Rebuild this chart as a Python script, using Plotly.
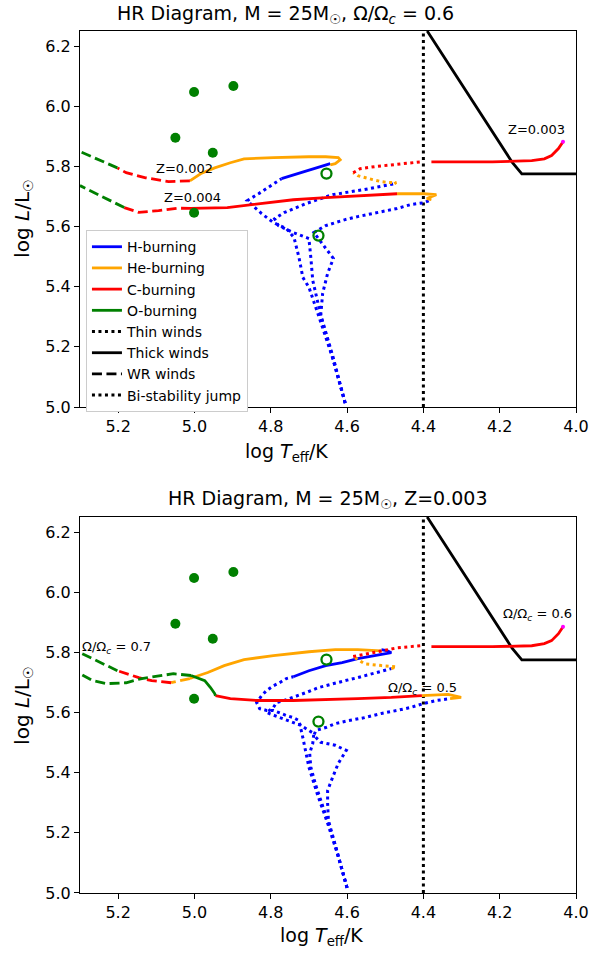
import plotly.graph_objects as go

BLUE = "#0000ff"; ORANGE = "#ffa500"; RED = "#ff0000"; GREEN = "#008000"
MAG = "#ff00ff"; BLACK = "#000000"
DOT = "3px,3.5px"; DASH = "10px,4.5px"

# ---------------- shared elements ----------------
thick_T = [4.39, 4.167, 4.142, 4.0]
thick_L = [6.25, 5.813, 5.775, 5.775]
bistab_T = [4.4, 4.4]
bistab_L = [5.0, 6.25]
obs_filled_T = [5.001, 4.898, 5.050, 4.952, 5.001]
obs_filled_L = [6.047, 6.067, 5.895, 5.845, 5.646]
obs_open_T = [4.654, 4.675]
obs_open_L = [5.776, 5.570]

x_ticks = [5.2, 5.0, 4.8, 4.6, 4.4, 4.2, 4.0]
y_ticks = [5.0, 5.2, 5.4, 5.6, 5.8, 6.0, 6.2]

# ---------------- top panel: Omega/Omega_c = 0.6 ----------------
# Z = 0.002
z2_H_thin_T = [4.605, 4.636, 4.675, 4.700, 4.716, 4.726, 4.739, 4.759, 4.793, 4.824, 4.862, 4.832, 4.772]
z2_H_thin_L = [5.013, 5.156, 5.305, 5.398, 5.431, 5.497, 5.563, 5.593, 5.613, 5.643, 5.686, 5.709, 5.759]
z2_H_thick_T = [4.772, 4.700, 4.644]
z2_H_thick_L = [5.759, 5.786, 5.809]
z2_He_thick_T = [4.644, 4.631, 4.618, 4.623, 4.656, 4.700, 4.793, 4.870, 4.906, 4.947, 4.983, 5.012]
z2_He_thick_L = [5.805, 5.809, 5.822, 5.829, 5.832, 5.832, 5.829, 5.825, 5.812, 5.795, 5.776, 5.752]
z2_C_wr_T = [5.012, 5.068, 5.128, 5.179, 5.202]
z2_C_wr_L = [5.752, 5.749, 5.762, 5.779, 5.795]
z2_O_wr_T = [5.202, 5.300]
z2_O_wr_L = [5.795, 5.849]

# Z = 0.003
z3_H_thin_T = [4.605, 4.638, 4.669, 4.690, 4.695, 4.700, 4.741, 4.780, 4.790, 4.765, 4.708, 4.638, 4.554, 4.476]
z3_H_thin_L = [5.013, 5.172, 5.305, 5.421, 5.497, 5.560, 5.580, 5.603, 5.626, 5.646, 5.676, 5.706, 5.723, 5.742]
z3_He_thin_T = [4.476, 4.471, 4.489, 4.510, 4.533, 4.554, 4.572, 4.584]
z3_He_thin_L = [5.742, 5.746, 5.746, 5.749, 5.756, 5.762, 5.769, 5.779]
z3_C_thin_T = [4.584, 4.566, 4.528, 4.484, 4.451, 4.407]
z3_C_thin_L = [5.779, 5.792, 5.799, 5.805, 5.809, 5.815]
z3_C_thick_T = [4.379, 4.219, 4.116, 4.083, 4.064, 4.046, 4.034]
z3_C_thick_L = [5.815, 5.815, 5.819, 5.825, 5.836, 5.859, 5.882]

# Z = 0.004
z4_H_thin_T = [4.605, 4.644, 4.669, 4.664, 4.651, 4.636, 4.662, 4.687, 4.656, 4.631, 4.605, 4.572,
               4.536, 4.502, 4.469, 4.433, 4.399, 4.379]
z4_H_thin_L = [5.013, 5.189, 5.305, 5.378, 5.444, 5.494, 5.537, 5.580, 5.603, 5.613, 5.623, 5.633,
               5.643, 5.650, 5.660, 5.673, 5.679, 5.689]
z4_He_thick_T = [4.379, 4.391, 4.366, 4.399, 4.430, 4.469]
z4_He_thick_L = [5.689, 5.693, 5.706, 5.709, 5.709, 5.709]
z4_C_thick_T = [4.469, 4.572, 4.656, 4.741, 4.829, 4.870, 4.914, 5.009]
z4_C_thick_L = [5.709, 5.703, 5.696, 5.689, 5.676, 5.670, 5.663, 5.660]
z4_C_wr_T = [5.009, 5.043, 5.094, 5.146, 5.184]
z4_C_wr_L = [5.660, 5.661, 5.653, 5.647, 5.663]
z4_O_wr_T = [5.184, 5.300]
z4_O_wr_L = [5.663, 5.736]

# ---------------- bottom panel: Z = 0.003 ----------------
# Omega/Omega_c = 0.7
w7_H_thin_T = [4.600, 4.626, 4.651, 4.677, 4.700, 4.708, 4.716, 4.726, 4.741, 4.759, 4.777, 4.793, 4.811,
               4.829, 4.837, 4.824, 4.811, 4.793, 4.777, 4.759, 4.741]
w7_H_thin_L = [5.017, 5.133, 5.232, 5.325, 5.418, 5.474, 5.517, 5.573, 5.583, 5.590, 5.600, 5.607, 5.607,
               5.613, 5.633, 5.656, 5.673, 5.689, 5.699, 5.713, 5.719]
w7_H_thick_T = [4.741, 4.700, 4.656, 4.613, 4.572, 4.528, 4.494, 4.484, 4.494, 4.510]
w7_H_thick_L = [5.719, 5.739, 5.756, 5.766, 5.779, 5.789, 5.795, 5.799, 5.805, 5.809]
w7_He_thick_T = [4.510, 4.572, 4.631, 4.700, 4.793, 4.870, 4.922, 4.965, 5.012]
w7_He_thick_L = [5.805, 5.809, 5.809, 5.802, 5.789, 5.776, 5.756, 5.733, 5.713]
w7_He_wr_T = [5.012, 5.061]
w7_He_wr_L = [5.713, 5.699]
w7_C_wr_T = [5.061, 5.112, 5.146, 5.179, 5.202]
w7_C_wr_L = [5.699, 5.706, 5.716, 5.729, 5.739]
w7_O_wr_T = [5.202, 5.300]
w7_O_wr_L = [5.739, 5.799]

# Omega/Omega_c = 0.6
w6_H_thin_T = [4.600, 4.631, 4.656, 4.682, 4.695, 4.698, 4.690, 4.687, 4.721, 4.772, 4.811, 4.793, 4.785,
               4.765, 4.741, 4.708, 4.675, 4.638, 4.605, 4.572, 4.536, 4.502, 4.484]
w6_H_thin_L = [5.017, 5.159, 5.259, 5.358, 5.418, 5.464, 5.497, 5.530, 5.557, 5.580, 5.600, 5.617, 5.633,
               5.640, 5.650, 5.666, 5.683, 5.696, 5.706, 5.716, 5.729, 5.739, 5.746]
w6_He_thin_T = [4.484, 4.471, 4.510, 4.554, 4.584]
w6_He_thin_L = [5.746, 5.752, 5.756, 5.762, 5.786]
w6_C_thin_T = [4.584, 4.536, 4.469, 4.407]
w6_C_thin_L = [5.786, 5.799, 5.815, 5.822]
w6_C_thick_T = [4.379, 4.219, 4.116, 4.083, 4.064, 4.046, 4.034]
w6_C_thick_L = [5.819, 5.819, 5.822, 5.829, 5.839, 5.862, 5.885]

# Omega/Omega_c = 0.5
w5_H_thin_T = [4.600, 4.636, 4.649, 4.651, 4.651, 4.638, 4.623, 4.602, 4.631, 4.669, 4.687, 4.682, 4.656,
               4.631, 4.597, 4.554, 4.510, 4.469, 4.433, 4.399, 4.366, 4.330]
w5_H_thin_L = [5.017, 5.186, 5.242, 5.298, 5.341, 5.384, 5.431, 5.474, 5.491, 5.501, 5.524, 5.540, 5.550,
               5.563, 5.573, 5.583, 5.597, 5.607, 5.617, 5.630, 5.640, 5.646]
w5_He_thick_T = [4.330, 4.301, 4.335, 4.404]
w5_He_thick_L = [5.646, 5.650, 5.660, 5.656]
w5_C_thick_T = [4.404, 4.484, 4.572, 4.656, 4.741, 4.837, 4.906, 4.945]
w5_C_thick_L = [5.656, 5.650, 5.646, 5.643, 5.640, 5.640, 5.646, 5.656]
w5_O_thick_T = [4.945, 4.947, 4.958, 4.973, 5.009]
w5_O_thick_L = [5.656, 5.663, 5.683, 5.706, 5.723]
w5_O_wr_T = [5.009, 5.055, 5.138, 5.179, 5.230, 5.267, 5.300]
w5_O_wr_L = [5.723, 5.729, 5.713, 5.699, 5.696, 5.706, 5.729]

fig = go.Figure()


def seg(T, L, color, dash, ax):
    xa, ya = ("x", "y") if ax == 1 else ("x2", "y2")
    w = 3 if dash == DOT else 2.8
    fig.add_trace(go.Scatter(x=T, y=L, mode="lines", xaxis=xa, yaxis=ya,
                             line=dict(color=color, width=w, dash=dash),
                             showlegend=False, hoverinfo="skip"))


top_segments = [
    (z2_H_thin_T, z2_H_thin_L, BLUE, DOT), (z3_H_thin_T, z3_H_thin_L, BLUE, DOT),
    (z4_H_thin_T, z4_H_thin_L, BLUE, DOT),
    (z2_H_thick_T, z2_H_thick_L, BLUE, "solid"),
    (z2_He_thick_T, z2_He_thick_L, ORANGE, "solid"),
    (z2_C_wr_T, z2_C_wr_L, RED, DASH), (z2_O_wr_T, z2_O_wr_L, GREEN, DASH),
    (z3_He_thin_T, z3_He_thin_L, ORANGE, DOT), (z3_C_thin_T, z3_C_thin_L, RED, DOT),
    (z3_C_thick_T, z3_C_thick_L, RED, "solid"),
    (z4_He_thick_T, z4_He_thick_L, ORANGE, "solid"), (z4_C_thick_T, z4_C_thick_L, RED, "solid"),
    (z4_C_wr_T, z4_C_wr_L, RED, DASH), (z4_O_wr_T, z4_O_wr_L, GREEN, DASH),
]
bottom_segments = [
    (w7_H_thin_T, w7_H_thin_L, BLUE, DOT), (w6_H_thin_T, w6_H_thin_L, BLUE, DOT),
    (w5_H_thin_T, w5_H_thin_L, BLUE, DOT),
    (w7_H_thick_T, w7_H_thick_L, BLUE, "solid"),
    (w7_He_thick_T, w7_He_thick_L, ORANGE, "solid"), (w7_He_wr_T, w7_He_wr_L, ORANGE, DASH),
    (w7_C_wr_T, w7_C_wr_L, RED, DASH), (w7_O_wr_T, w7_O_wr_L, GREEN, DASH),
    (w6_He_thin_T, w6_He_thin_L, ORANGE, DOT), (w6_C_thin_T, w6_C_thin_L, RED, DOT),
    (w6_C_thick_T, w6_C_thick_L, RED, "solid"),
    (w5_He_thick_T, w5_He_thick_L, ORANGE, "solid"), (w5_C_thick_T, w5_C_thick_L, RED, "solid"),
    (w5_O_thick_T, w5_O_thick_L, GREEN, "solid"), (w5_O_wr_T, w5_O_wr_L, GREEN, DASH),
]

for ax, segs, endT, endL in [(1, top_segments, z3_C_thick_T, z3_C_thick_L),
                             (2, bottom_segments, w6_C_thick_T, w6_C_thick_L)]:
    xa, ya = ("x", "y") if ax == 1 else ("x2", "y2")
    seg(bistab_T, bistab_L, BLACK, DOT, ax)
    seg(thick_T, thick_L, BLACK, "solid", ax)
    for T, L, c, d in segs:
        seg(T, L, c, d, ax)
    fig.add_trace(go.Scatter(x=[endT[-1]], y=[endL[-1]], mode="markers", xaxis=xa, yaxis=ya,
                             marker=dict(color=MAG, size=4), showlegend=False, hoverinfo="skip"))
    fig.add_trace(go.Scatter(x=obs_filled_T, y=obs_filled_L, mode="markers", xaxis=xa, yaxis=ya,
                             marker=dict(color=GREEN, size=10), showlegend=False, hoverinfo="skip"))
    fig.add_trace(go.Scatter(x=obs_open_T, y=obs_open_L, mode="markers", xaxis=xa, yaxis=ya,
                             marker=dict(color="rgba(0,0,0,0)", size=10, line=dict(color=GREEN, width=2.3)),
                             showlegend=False, hoverinfo="skip"))

legend_items = [("H-burning", BLUE, "solid"), ("He-burning", ORANGE, "solid"),
                ("C-burning", RED, "solid"), ("O-burning", GREEN, "solid"),
                ("Thin winds", BLACK, DOT), ("Thick winds", BLACK, "solid"),
                ("WR winds", BLACK, DASH), ("Bi-stability jump", BLACK, DOT)]
for name, c, d in legend_items:
    fig.add_trace(go.Scatter(x=[None], y=[None], mode="lines", name=name, xaxis="x", yaxis="y",
                             line=dict(color=c, width=2.8 if d != DOT else 3, dash=d)))

FONT = "DejaVu Sans"
axis_common = dict(range=[5.3, 4.0], tickvals=x_ticks, tickformat=".1f", showline=True, mirror=True,
                   linecolor="black", linewidth=1, ticks="outside", ticklen=5, tickcolor="black",
                   showgrid=False, zeroline=False, tickfont=dict(size=16, color="black"))
yaxis_common = dict(range=[5.0, 6.25], tickvals=y_ticks, tickformat=".1f", showline=True, mirror=True,
                    linecolor="black", linewidth=1, ticks="outside", ticklen=5, tickcolor="black",
                    showgrid=False, zeroline=False, tickfont=dict(size=16, color="black"))

top_dom = [0.5638, 1.0]
bot_dom = [0.0, 0.4362]

fig.update_layout(
    width=601, height=954, margin=dict(l=80, r=16, t=31, b=61),
    paper_bgcolor="white", plot_bgcolor="white",
    font=dict(family=FONT, color="black"),
    xaxis=dict(axis_common, domain=[0, 1], anchor="y"),
    yaxis=dict(yaxis_common, domain=top_dom, anchor="x"),
    xaxis2=dict(axis_common, domain=[0, 1], anchor="y2"),
    yaxis2=dict(yaxis_common, domain=bot_dom, anchor="x2"),
    showlegend=True,
    legend=dict(x=0.012, y=0.769, xanchor="left", yanchor="top", bgcolor="white",
                bordercolor="#cccccc", borderwidth=1, font=dict(size=14), tracegroupgap=0),
)

ann = []
def txt(text, x, y, size, xref="paper", yref="paper", xanchor="center", yanchor="middle", angle=0):
    ann.append(dict(text=text, x=x, y=y, xref=xref, yref=yref, showarrow=False, xanchor=xanchor,
                    yanchor=yanchor, textangle=angle, font=dict(size=size, family=FONT, color="black")))

txt("HR Diagram, M = 25M<sub>☉</sub>, Ω/Ω<sub><i>c</i></sub> = 0.6", 0.414, 1.0197, 19)
txt("HR Diagram, M = 25M<sub>☉</sub>, Z=0.003", 0.499, 0.457, 19)
txt("log <i>T</i><sub>eff</sub>/K", 0.416, 0.5116, 19)
txt("log <i>T</i><sub>eff</sub>/K", 0.487, -0.051, 19)
txt("log <i>L</i>/L<sub>☉</sub>", -0.115, 0.782, 20, angle=-90)
txt("log <i>L</i>/L<sub>☉</sub>", -0.115, 0.217, 20, angle=-90)

txt("Z=0.002", 5.025, 5.792, 13, "x", "y")
txt("Z=0.004", 5.004, 5.696, 13, "x", "y")
txt("Z=0.003", 4.103, 5.921, 13, "x", "y")
txt("Ω/Ω<sub><i>c</i></sub> = 0.7", 5.3, 5.815, 13, "x2", "y2", xanchor="left")
txt("Ω/Ω<sub><i>c</i></sub> = 0.6", 4.101, 5.925, 13, "x2", "y2")
txt("Ω/Ω<sub><i>c</i></sub> = 0.5", 4.402, 5.679, 13, "x2", "y2")
fig.update_layout(annotations=ann)

fig.write_html("out.html")
